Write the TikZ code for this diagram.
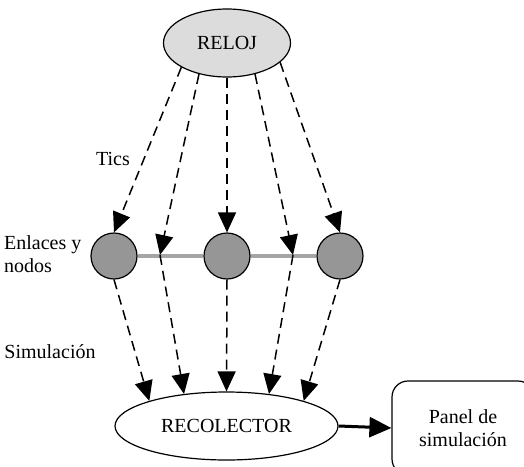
\documentclass[tikz,border=0pt]{standalone}
\usepackage{fontspec}
\setmainfont{Liberation Serif}
\usetikzlibrary{arrows.meta,shapes.geometric}
\definecolor{relojgray}{RGB}{220,220,220}
\definecolor{nodegray}{RGB}{150,150,150}
\definecolor{linkgray}{RGB}{165,165,165}
\begin{document}
\begin{tikzpicture}[x=1pt,y=-1pt,
  every node/.style={font=\rmfamily\fontsize{20}{23}\selectfont},
  tic/.style={dash pattern=on 10pt off 6pt, line width=1.5pt,
    -{Triangle[length=20pt,width=18pt]}},
  nodo/.style={circle, draw, line width=1.2pt, fill=nodegray,
    minimum size=46pt, inner sep=0pt},
  oval/.style={ellipse, draw, line width=1.2pt, inner sep=0pt},
  lbl/.style={inner sep=0pt}]
\useasboundingbox (0,0) rectangle (524,466);
\clip (0,0) rectangle (524,466);
% nodes
\node[oval, fill=relojgray, minimum width=127pt, minimum height=68pt] (reloj) at (227,43) {RELOJ};
\node[nodo] (c1) at (114,256) {};
\node[nodo] (c2) at (227,256) {};
\node[nodo] (c3) at (340,256) {};
\node[oval, minimum width=223pt, minimum height=68pt] (rec) at (226.5,426) {RECOLECTOR};
\node[draw, line width=1.2pt, rounded corners=16pt, minimum width=142pt,
  minimum height=94pt, align=center, inner sep=0pt] (panel) at (463,428) {Panel de\\simulación};
\coordinate (j2) at (160,255);
\coordinate (j4) at (293,255);
% labels
\node[lbl] (tics) at (113,159) {Tics};
\node[lbl, anchor=west, align=left] (enl) at (4,254) {Enlaces y\\nodos};
\node[lbl] (sim) at (50,352) {Simulación};
% links
\draw[linkgray, line width=3.5pt] (c1.east) -- (c2.west);
\draw[linkgray, line width=3.5pt] (c2.east) -- (c3.west);
% tics
\draw[tic] (reloj.208) -- (c1.north);
\draw[tic] (reloj.228) -- (j2);
\draw[tic] (reloj.south) -- (c2.north);
\draw[tic] (reloj.312) -- (j4);
\draw[tic] (reloj.340) -- (c3.north);
% simulation
\draw[tic] (c1.south) -- (rec.162);
\draw[tic] (j2) -- (rec.143);
\draw[tic] (c2.south) -- (rec.north);
\draw[tic] (j4) -- (rec.37);
\draw[tic] (c3.south) -- (rec.18);
% output
\draw[line width=3pt, -{Triangle[length=22pt,width=20pt]}] (rec.east) -- (panel.west);
\end{tikzpicture}
\end{document}
